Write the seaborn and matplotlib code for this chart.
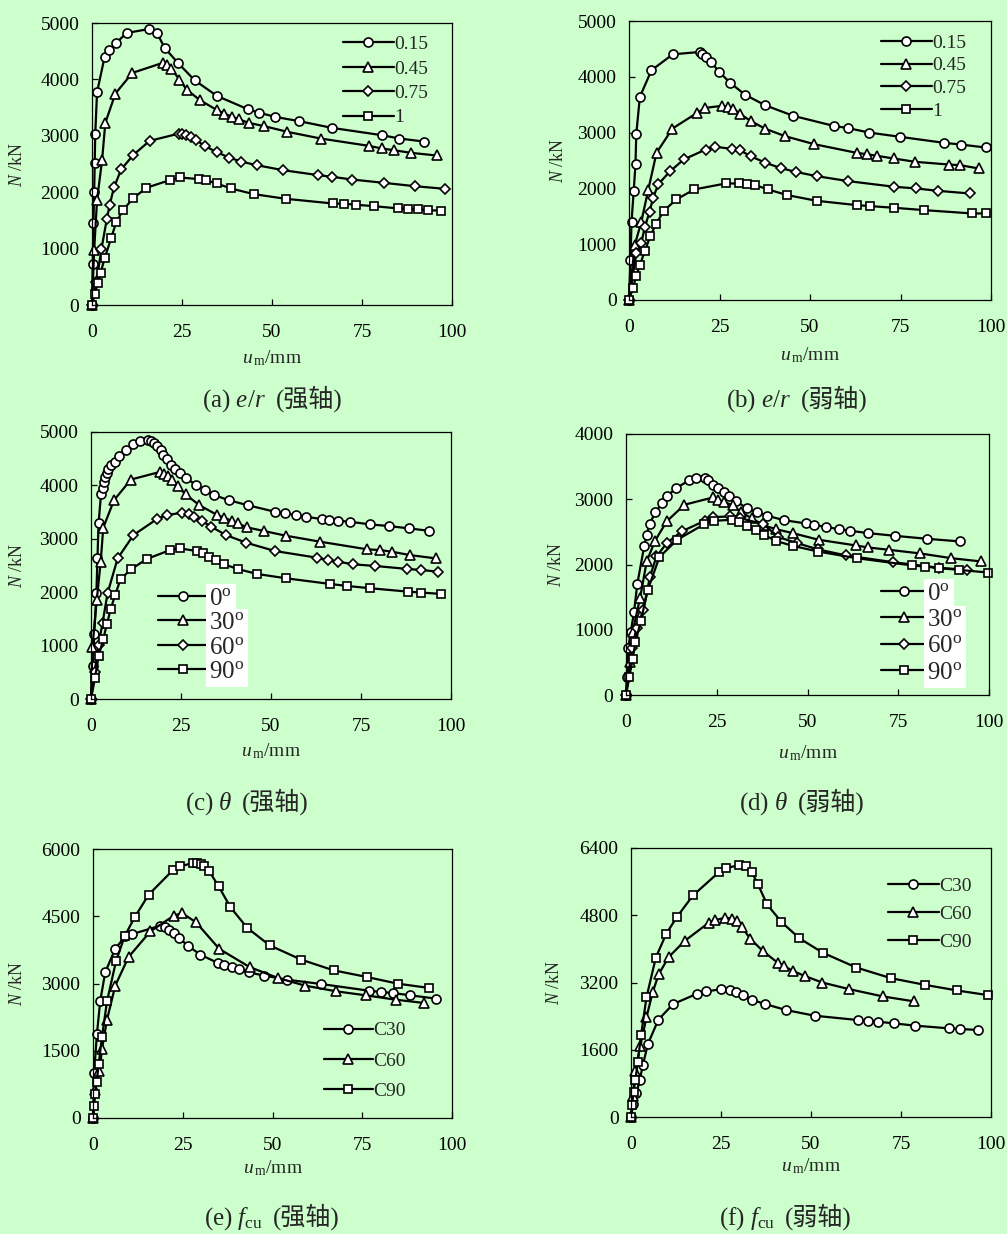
import matplotlib
matplotlib.use("Agg")
import matplotlib.pyplot as plt
import matplotlib.transforms as mtransforms
from matplotlib.offsetbox import TextArea, HPacker, AnnotationBbox
import pandas as pd
import seaborn as sns

# ---- data: u_m (mm) vs N (kN) ----
# (a) e/r, strong axis
a_015_u = [0, 0.2, 0.4, 0.6, 0.75, 0.9, 1.4, 3.5, 4.8, 6.7, 9.6, 15.9, 18.0, 20.2, 23.8, 28.5,
           34.7, 43.3, 46.3, 50.9, 57.6, 66.7, 80.5, 85.4, 92.2]
a_015_n = [0, 720, 1458, 2007, 2520, 3028, 3772, 4398, 4516, 4646, 4823, 4894, 4829, 4557, 4298,
           3985, 3707, 3471, 3412, 3335, 3259, 3140, 3011, 2952, 2898]
a_045_u = [0, 0.6, 1.4, 2.8, 3.7, 6.5, 11.2, 19.6, 20.8, 22.0, 24.3, 26.3, 30.0, 34.8, 36.8, 39.0,
           40.7, 43.6, 47.9, 54.3, 63.5, 76.9, 80.5, 83.8, 88.6, 95.7]
a_045_n = [0, 974, 1860, 2568, 3229, 3749, 4115, 4292, 4250, 4191, 3997, 3819, 3631, 3453, 3394,
           3335, 3294, 3229, 3170, 3070, 2952, 2822, 2775, 2745, 2698, 2651]
a_075_u = [0, 1.2, 2.6, 4.1, 4.9, 6.1, 8.1, 11.4, 16.0, 24.2, 25.1, 26.0, 27.4, 28.9, 31.3, 34.8,
           38.1, 41.3, 45.8, 53.0, 62.9, 66.7, 72.2, 81.1, 89.6, 98.0]
a_075_n = [0, 400, 986, 1517, 1771, 2084, 2403, 2656, 2910, 3040, 3030, 3010, 2980, 2922, 2822,
           2704, 2615, 2544, 2479, 2391, 2302, 2273, 2225, 2166, 2107, 2060]
a_1_u = [0, 0.8, 1.6, 2.4, 3.5, 5.3, 6.7, 8.6, 11.4, 15.1, 21.6, 24.5, 29.7, 31.6, 34.6, 38.6,
         44.9, 53.8, 66.9, 70.1, 73.4, 78.2, 85.1, 87.9, 90.6, 93.3, 97.0]
a_1_n = [0, 195, 396, 573, 826, 1181, 1464, 1682, 1889, 2078, 2214, 2261, 2231, 2214, 2155, 2066,
         1966, 1883, 1800, 1795, 1777, 1753, 1712, 1706, 1694, 1682, 1671]

# (b) e/r, weak axis
b_015_u = [0, 0.4, 0.7, 1.3, 1.8, 2.0, 3.0, 6.2, 12.1, 19.6, 20.2, 21.2, 22.7, 24.9, 27.9, 32.0,
           37.6, 45.4, 56.5, 60.6, 66.3, 74.9, 87.1, 91.7, 98.5]
b_015_n = [0, 716, 1402, 1950, 2446, 2966, 3640, 4117, 4403, 4445, 4415, 4356, 4266, 4087, 3896,
           3681, 3490, 3300, 3121, 3079, 3001, 2924, 2816, 2786, 2733]
b_045_u = [0, 1.6, 3.4, 5.3, 7.6, 12.0, 18.8, 21.1, 25.6, 27.4, 28.8, 30.8, 33.6, 37.5, 43.1, 51.2,
           62.9, 65.7, 68.5, 73.1, 79.1, 88.3, 91.5, 96.6]
b_045_n = [0, 985, 1402, 1969, 2637, 3073, 3353, 3443, 3479, 3461, 3431, 3329, 3210, 3073, 2936,
           2792, 2637, 2613, 2584, 2536, 2476, 2428, 2416, 2357]
b_075_u = [0, 2.0, 3.4, 4.4, 5.7, 6.6, 8.1, 11.3, 15.1, 21.2, 23.8, 28.5, 30.6, 33.6, 37.7, 42.0,
           46.0, 51.8, 60.6, 73.3, 79.3, 85.3, 94.1]
b_075_n = [0, 835, 1026, 1313, 1581, 1820, 2076, 2303, 2518, 2697, 2745, 2709, 2685, 2578, 2458,
           2363, 2297, 2220, 2130, 2029, 1999, 1957, 1909]
b_1_u = [0, 1.1, 2.0, 3.0, 4.4, 5.9, 7.4, 9.6, 13.1, 18.0, 26.7, 30.4, 32.5, 34.9, 38.4, 43.7,
         51.8, 63.0, 66.6, 73.1, 81.5, 94.7, 98.6]
b_1_n = [0, 221, 430, 626, 883, 1146, 1354, 1599, 1802, 1981, 2088, 2088, 2076, 2059, 1981, 1880,
         1778, 1700, 1683, 1653, 1611, 1551, 1551]

# (c) theta, strong axis
c_0_u = [0, 0.5, 0.9, 1.5, 1.8, 2.1, 2.8, 3.2, 3.6, 4.0, 4.4, 4.8, 5.5, 6.7, 7.9, 9.7, 11.8, 13.6,
         15.9, 16.6, 17.5, 18.3, 19.4, 20.1, 21.0, 22.1, 23.4, 24.7, 26.4, 29.2, 31.7, 34.3, 38.2,
         43.5, 51.1, 53.9, 57.0, 59.8, 64.1, 66.0, 68.5, 72.0, 77.6, 82.9, 88.4, 93.8]
c_0_n = [0, 610, 1214, 1993, 2646, 3288, 3848, 3954, 4060, 4150, 4230, 4315, 4380, 4440, 4545,
         4670, 4770, 4826, 4844, 4830, 4795, 4738, 4670, 4564, 4490, 4390, 4315, 4240, 4141, 4004,
         3910, 3817, 3724, 3630, 3506, 3475, 3443, 3412, 3369, 3356, 3338, 3319, 3269, 3238, 3194,
         3151]
c_30_u = [0, 0.4, 1.6, 2.7, 3.4, 6.4, 11.1, 19.2, 20.3, 21.5, 22.4, 24.1, 26.3, 30.1, 35.1, 37.0,
          39.1, 40.8, 43.4, 48.1, 54.2, 63.7, 76.8, 80.2, 83.6, 88.5, 95.7]
c_30_n = [0, 965, 1856, 2572, 3207, 3724, 4110, 4253, 4222, 4172, 4097, 3985, 3830, 3630, 3444,
          3394, 3338, 3288, 3213, 3145, 3057, 2945, 2802, 2790, 2758, 2696, 2634]
c_60_u = [0, 1.0, 2.1, 3.2, 4.6, 7.4, 11.8, 18.3, 21.0, 25.2, 27.1, 28.6, 30.9, 33.4, 37.5, 43.1,
          51.1, 62.7, 65.7, 68.5, 72.9, 79.0, 87.9, 91.7, 96.3]
c_60_n = [0, 500, 1015, 1420, 1980, 2634, 3070, 3369, 3444, 3487, 3456, 3412, 3331, 3226, 3070,
          2927, 2771, 2647, 2603, 2572, 2522, 2491, 2435, 2416, 2385]
c_90_u = [0, 1.1, 2.1, 3.4, 4.4, 5.5, 6.7, 8.2, 11.1, 15.5, 22.0, 24.6, 29.4, 31.0, 32.8, 34.6,
          37.0, 40.7, 46.2, 54.2, 66.5, 71.1, 77.6, 88.0, 91.7, 97.2]
c_90_n = [0, 392, 797, 1121, 1401, 1688, 1949, 2242, 2429, 2622, 2790, 2821, 2771, 2727, 2665,
          2603, 2522, 2435, 2341, 2260, 2154, 2117, 2074, 2011, 1993, 1968]

# (d) theta, weak axis
d_0_u = [0, 0.2, 0.6, 1.3, 2.2, 3.1, 5.0, 5.7, 6.5, 8.1, 9.9, 11.2, 13.8, 17.4, 19.3, 21.7, 22.7,
         24.0, 25.4, 27.0, 28.3, 30.2, 33.2, 36.1, 38.9, 43.5, 49.5, 51.7, 55.2, 58.7, 61.7, 66.7,
         74.0, 82.9, 92.1]
d_0_n = [0, 281, 716, 962, 1269, 1698, 2276, 2455, 2619, 2803, 2936, 3043, 3171, 3289, 3325, 3325,
         3289, 3223, 3171, 3110, 3054, 2977, 2864, 2798, 2747, 2680, 2629, 2609, 2573, 2542, 2517,
         2481, 2440, 2394, 2353]
d_30_u = [0, 1.0, 1.8, 3.9, 5.7, 8.0, 11.2, 16.1, 24.0, 25.4, 27.0, 29.5, 31.8, 34.6, 38.0, 41.3,
          45.9, 53.1, 63.3, 66.7, 72.5, 81.1, 89.6, 97.9]
d_30_n = [0, 500, 962, 1494, 2046, 2363, 2660, 2916, 3028, 2992, 2957, 2905, 2798, 2711, 2598,
          2542, 2481, 2379, 2292, 2261, 2225, 2169, 2097, 2046]
d_60_u = [0, 1.6, 2.9, 4.8, 6.6, 8.4, 11.2, 15.3, 21.7, 24.0, 28.6, 31.4, 37.8, 42.0, 47.0, 53.0,
          60.7, 73.6, 86.2, 93.9]
d_60_n = [0, 716, 1023, 1304, 1816, 2123, 2327, 2506, 2670, 2726, 2737, 2711, 2619, 2420, 2330,
          2230, 2138, 2036, 1950, 1918]
d_90_u = [0, 0.9, 1.8, 2.6, 4.1, 6.0, 9.2, 14.1, 21.6, 24.2, 29.1, 31.2, 33.4, 35.8, 38.1, 41.2,
          45.9, 52.9, 63.5, 78.9, 82.3, 86.2, 91.7, 99.7]
d_90_n = [0, 271, 547, 808, 1141, 1611, 2113, 2379, 2619, 2670, 2685, 2650, 2593, 2522, 2455,
          2363, 2286, 2199, 2097, 1985, 1969, 1944, 1918, 1877]

# (e) f_cu, strong axis
e_30_u = [0, 0.3, 1.1, 2.0, 3.4, 6.2, 9.0, 11.0, 18.8, 20.0, 21.3, 22.5, 24.0, 26.4, 29.9, 34.8,
          36.6, 38.7, 40.6, 43.4, 47.7, 54.0, 63.5, 76.8, 80.3, 83.6, 88.4, 95.6]
e_30_n = [0, 1004, 1881, 2602, 3249, 3777, 4052, 4104, 4290, 4253, 4201, 4126, 4015, 3844, 3643,
          3457, 3420, 3368, 3323, 3249, 3175, 3086, 2989, 2840, 2810, 2788, 2736, 2662]
e_60_u = [0, 0.6, 1.8, 2.5, 3.9, 6.2, 9.9, 16.0, 22.5, 24.8, 28.7, 35.2, 43.6, 51.5, 59.1, 67.8,
          76.0, 84.3, 92.3]
e_60_n = [0, 632, 1041, 1539, 2193, 2952, 3591, 4164, 4513, 4572, 4364, 3770, 3368, 3123, 2952,
          2825, 2736, 2639, 2565]
e_90_u = [0, 0.3, 0.5, 1.0, 1.6, 2.5, 3.9, 6.4, 8.8, 11.6, 15.5, 22.2, 24.3, 27.8, 29.0, 30.2,
          31.0, 32.4, 35.0, 38.3, 43.0, 49.2, 58.0, 67.0, 76.3, 84.9, 93.7]
e_90_n = [0, 260, 535, 796, 1204, 1807, 2602, 3494, 4052, 4476, 4981, 5524, 5613, 5688, 5688,
          5675, 5628, 5502, 5167, 4699, 4238, 3851, 3532, 3294, 3145, 2996, 2900]

# (f) f_cu, weak axis
f_30_u = [0, 0.6, 1.5, 2.4, 3.3, 4.7, 7.6, 11.7, 18.3, 20.9, 25.1, 27.4, 29.1, 31.0, 33.5, 37.3,
          43.1, 51.0, 63.0, 65.7, 68.6, 73.0, 79.0, 88.2, 91.5, 96.4]
f_30_n = [0, 300, 560, 869, 1240, 1738, 2315, 2687, 2931, 2987, 3042, 3026, 2963, 2908, 2789,
          2687, 2544, 2410, 2307, 2291, 2268, 2228, 2173, 2110, 2094, 2070]
f_60_u = [0, 0.5, 1.2, 2.6, 4.3, 6.0, 7.7, 10.5, 14.9, 21.6, 23.4, 26.2, 28.1, 29.4, 30.8, 33.1,
          36.6, 40.7, 42.4, 44.9, 48.2, 53.1, 60.6, 70.0, 78.7]
f_60_n = [0, 500, 1106, 1699, 2370, 2963, 3398, 3808, 4188, 4622, 4685, 4741, 4717, 4662, 4520,
          4243, 3951, 3674, 3595, 3477, 3358, 3200, 3042, 2868, 2750]
f_90_u = [0, 0.3, 0.7, 1.2, 1.9, 2.8, 4.3, 6.9, 9.8, 12.8, 17.2, 24.4, 26.5, 30.0, 32.0, 33.6,
          35.2, 37.8, 41.8, 46.8, 53.2, 62.6, 72.2, 81.6, 90.6, 99.1]
f_90_n = [0, 292, 593, 869, 1320, 1952, 2845, 3793, 4362, 4764, 5270, 5823, 5926, 5989, 5966,
          5823, 5547, 5057, 4638, 4251, 3911, 3556, 3303, 3145, 3010, 2900]

er_labels = ['0.15', '0.45', '0.75', '1']
theta_labels = [r'0$^{\mathrm{o}}$', r'30$^{\mathrm{o}}$', r'60$^{\mathrm{o}}$', r'90$^{\mathrm{o}}$']
fcu_labels = ['C30', 'C60', 'C90']

W, H = 1007, 1234
BG = '#ccffcc'

sns.set_style('ticks')
plt.rcParams['font.family'] = ['Liberation Serif', 'Noto Sans CJK SC']
plt.rcParams.update({
    'mathtext.fontset': 'custom',
    'mathtext.rm': 'Liberation Serif',
    'mathtext.it': 'Liberation Serif:italic',
    'axes.facecolor': BG,
    'figure.facecolor': BG,
    'axes.edgecolor': 'black',
    'axes.linewidth': 0.9,
    'xtick.color': 'black',
    'ytick.color': 'black',
})

fig = plt.figure(figsize=(W / 100, H / 100), dpi=100)

MARK4 = ['o', '^', 'D', 's']
MARK3 = ['o', '^', 's']
MSIZE = {'o': 6.5, '^': 7.0, 'D': 4.6, 's': 6.3}


def px_axes(l, t, r, b):
    return fig.add_axes([l / W, 1 - b / H, (r - l) / W, (b - t) / H])


def panel(box, series, labels, ymax, ystep, leg, caption, xlab_top, ylab_right):
    ax = px_axes(*box)
    markers = MARK4 if len(series) == 4 else MARK3
    for (u, n), lab, m in zip(series, labels, markers):
        df = pd.DataFrame({'u': u, 'N': n})
        sns.lineplot(data=df, x='u', y='N', ax=ax, sort=False, estimator=None,
                     color='black', linewidth=1.6, marker=m, markersize=MSIZE[m],
                     markerfacecolor='white', markeredgecolor='black',
                     markeredgewidth=1.2, label=lab, clip_on=False)
    ax.set_xlim(0, 100)
    ax.set_ylim(0, ymax)
    ax.set_xticks(range(0, 101, 25))
    ax.set_yticks(range(0, ymax + 1, ystep))
    ax.tick_params(direction='in', length=4, width=0.9, labelsize=14,
                   top=False, right=False)
    ax.tick_params(axis='x', pad=14)
    ax.tick_params(axis='y', pad=9)
    for s in ax.spines.values():
        s.set_visible(True)
        s.set_color('black')

    ax.set_xlabel(r'$u_{\,\mathrm{m}}$/mm', fontsize=14)
    ax.set_ylabel(r'$N$ /kN', fontsize=13)
    ax.xaxis.set_label_coords(
        0.5, 1 - xlab_top / H,
        transform=mtransforms.blended_transform_factory(ax.transAxes, fig.transFigure))
    ax.yaxis.set_label_coords(
        ylab_right / W, 0.5,
        transform=mtransforms.blended_transform_factory(fig.transFigure, ax.transAxes))

    lx, ly, fs, hl, ls, white = leg
    lg = ax.legend(loc='center left', bbox_to_anchor=(lx / W, 1 - ly / H),
                   bbox_transform=fig.transFigure, frameon=False, borderpad=0,
                   borderaxespad=0, handlelength=hl, handletextpad=0.05,
                   labelspacing=ls, fontsize=fs, numpoints=1)
    if white:
        for t in lg.get_texts():
            t.set_bbox(dict(facecolor='white', edgecolor='none', pad=2.5))

    (cx, cy, main, cjk) = caption
    parts = HPacker(children=[TextArea(main, textprops=dict(fontsize=18)),
                              TextArea(cjk, textprops=dict(fontsize=18))],
                    align='baseline', pad=0, sep=7)
    fig.add_artist(AnnotationBbox(parts, (cx / W, 1 - cy / H), xycoords='figure fraction',
                                  frameon=False, box_alignment=(0.5, 0.5), pad=0))
    return ax


panel((92, 23, 452, 305),
      [(a_015_u, a_015_n), (a_045_u, a_045_n), (a_075_u, a_075_n), (a_1_u, a_1_n)],
      er_labels, 5000, 1000, (343, 81, 14, 2.6, 0.35, False),
      (272, 400, r'(a) $e/r$', '(强轴)'), 348, 26)
panel((629, 21, 991, 300),
      [(b_015_u, b_015_n), (b_045_u, b_045_n), (b_075_u, b_075_n), (b_1_u, b_1_n)],
      er_labels, 5000, 1000, (881, 77, 14, 2.6, 0.26, False),
      (797, 400, r'(b) $e/r$', '(弱轴)'), 345, 567)
panel((91, 432, 451, 699),
      [(c_0_u, c_0_n), (c_30_u, c_30_n), (c_60_u, c_60_n), (c_90_u, c_90_n)],
      theta_labels, 5000, 1000, (158, 635, 18, 2.0, 0.08, True),
      (247, 803, r'(c) $\theta$', '(强轴)'), 741, 26)
panel((626, 434, 989, 695),
      [(d_0_u, d_0_n), (d_30_u, d_30_n), (d_60_u, d_60_n), (d_90_u, d_90_n)],
      theta_labels, 4000, 1000, (881, 633, 18, 1.8, 0.16, True),
      (802, 803, r'(d) $\theta$', '(弱轴)'), 743, 565)
panel((93, 849, 452, 1118),
      [(e_30_u, e_30_n), (e_60_u, e_60_n), (e_90_u, e_90_n)],
      fcu_labels, 6000, 1500, (324, 1061, 14, 2.5, 0.66, False),
      (272, 1218, r'(e) $f_{\mathrm{cu}}$', '(强轴)'), 1158, 26)
panel((631, 848, 991, 1117),
      [(f_30_u, f_30_n), (f_60_u, f_60_n), (f_90_u, f_90_n)],
      fcu_labels, 6400, 1600, (888, 914, 14, 2.6, 0.53, False),
      (785, 1218, r'(f) $f_{\mathrm{cu}}$', '(弱轴)'), 1156, 563)

fig.savefig('out.png', dpi=100, facecolor=BG)
